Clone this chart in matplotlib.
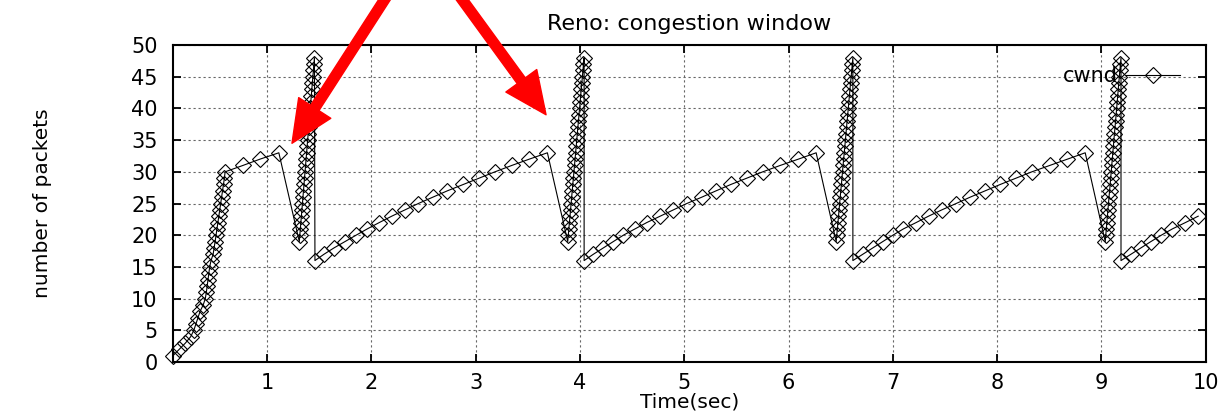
import matplotlib
matplotlib.use("Agg")
import matplotlib.pyplot as plt

# --- data ---
# slow start
ss_time = [0.100, 0.160, 0.220, 0.270, 0.300, 0.320, 0.340, 0.360, 0.390, 0.410,
           0.420, 0.428, 0.436, 0.444, 0.452, 0.465, 0.485, 0.495, 0.504, 0.513,
           0.522, 0.531, 0.540, 0.549, 0.558, 0.567, 0.576, 0.585, 0.593, 0.600]
ss_cwnd = [1, 2, 3, 4, 5, 6, 7, 8, 9, 10, 11, 12, 13, 14, 15, 16, 17, 18, 19, 20,
           21, 22, 23, 24, 25, 26, 27, 28, 29, 30]

# first congestion avoidance bit after slow start
ca0_time = [0.770, 0.935, 1.115]
ca0_cwnd = [31, 32, 33]

# fast recovery spikes (window inflation 19 -> 48)
spike_cwnd = [19, 20, 21, 22, 23, 24, 25, 26, 27, 28, 29, 30, 31, 32, 33,
              34, 35, 36, 37, 38, 39, 40, 41, 42, 43, 44, 45, 46, 47, 48]
spike1_time = [1.311, 1.316, 1.321, 1.326, 1.331, 1.336, 1.341, 1.346, 1.351, 1.356,
               1.361, 1.366, 1.371, 1.376, 1.381, 1.386, 1.391, 1.396, 1.401, 1.406,
               1.411, 1.416, 1.421, 1.426, 1.431, 1.436, 1.441, 1.446, 1.451, 1.456]
spike2_time = [3.884, 3.889, 3.895, 3.900, 3.906, 3.911, 3.916, 3.922, 3.927, 3.933,
               3.938, 3.943, 3.949, 3.954, 3.960, 3.965, 3.970, 3.976, 3.981, 3.987,
               3.992, 3.997, 4.003, 4.008, 4.014, 4.019, 4.024, 4.030, 4.035, 4.041]
spike3_time = [6.457, 6.463, 6.468, 6.474, 6.479, 6.485, 6.490, 6.496, 6.501, 6.507,
               6.512, 6.518, 6.523, 6.529, 6.534, 6.540, 6.545, 6.551, 6.556, 6.562,
               6.567, 6.573, 6.578, 6.584, 6.589, 6.595, 6.600, 6.606, 6.611, 6.617]
spike4_time = [9.036, 9.041, 9.046, 9.052, 9.057, 9.062, 9.067, 9.072, 9.078, 9.083,
               9.088, 9.093, 9.098, 9.104, 9.109, 9.114, 9.119, 9.124, 9.130, 9.135,
               9.140, 9.145, 9.150, 9.156, 9.161, 9.166, 9.171, 9.176, 9.182, 9.187]

# congestion avoidance after each recovery (16 -> 33)
ca_cwnd = [16, 17, 18, 19, 20, 21, 22, 23, 24, 25, 26, 27, 28, 29, 30, 31, 32, 33]
ca1_time = [1.461, 1.548, 1.644, 1.749, 1.855, 1.963, 2.078, 2.197, 2.324, 2.452,
            2.590, 2.730, 2.883, 3.037, 3.187, 3.347, 3.516, 3.689]
ca2_time = [4.041, 4.130, 4.226, 4.322, 4.417, 4.530, 4.642, 4.769, 4.897, 5.025,
            5.169, 5.306, 5.447, 5.600, 5.754, 5.920, 6.095, 6.265]
ca3_time = [6.617, 6.713, 6.809, 6.904, 7.000, 7.102, 7.224, 7.342, 7.470, 7.607,
            7.741, 7.885, 8.029, 8.182, 8.333, 8.502, 8.674, 8.844]
ca4_time = [9.187, 9.283, 9.378, 9.474, 9.573, 9.680, 9.805, 9.927]
ca4_cwnd = [16, 17, 18, 19, 20, 21, 22, 23]

# red annotation arrows (tail, tip) in data units
arrow1 = ((2.161, 58.0), (1.241, 34.5))
arrow2 = ((2.835, 58.0), (3.676, 39.0))

time = (ss_time + ca0_time + spike1_time + ca1_time + spike2_time + ca2_time
        + spike3_time + ca3_time + spike4_time + ca4_time)
cwnd = (ss_cwnd + ca0_cwnd + spike_cwnd + ca_cwnd + spike_cwnd + ca_cwnd
        + spike_cwnd + ca_cwnd + spike_cwnd + ca4_cwnd)

plt.rcParams['font.family'] = 'DejaVu Sans'

fig = plt.figure(figsize=(12.18, 4.11), dpi=100)
ax = fig.add_axes([0.142, 0.1192, 0.848, 0.7713])

ax.plot(time, cwnd, color='black', lw=0.8, marker='D', ms=7.8,
        mfc='none', mec='black', mew=0.8, label='cwnd', clip_on=False, zorder=3)

ax.set_xlim(0.1, 10)
ax.set_ylim(0, 50)
ax.set_xticks(range(1, 11))
ax.set_yticks(range(0, 51, 5))
ax.grid(True, color='0.4', linestyle=(0, (2, 2.5)), lw=0.8)

for s in ax.spines.values():
    s.set_linewidth(1.5)
ax.tick_params(direction='in', length=6, width=1.3, top=True, right=True,
               labelsize=15)
ax.tick_params(axis='y', pad=11)
ax.tick_params(axis='x', pad=8)

ax.set_title('Reno: congestion window', fontsize=16, pad=11)
ax.set_ylabel('number of packets', fontsize=14.5)
ax.yaxis.set_label_coords(-0.117, 0.5)
ax.set_xlabel('Time(sec)', fontsize=14.5)
ax.xaxis.set_label_coords(0.5, -0.097)

ax.legend(loc='center right', bbox_to_anchor=(0.975, 0.902), frameon=False,
          markerfirst=False, handlelength=2.6, handletextpad=0.4,
          borderpad=0, borderaxespad=0, fontsize=15, numpoints=1)

for tail, tip in (arrow1, arrow2):
    ax.annotate('', xy=tip, xytext=tail, annotation_clip=False,
                arrowprops=dict(arrowstyle='simple,head_length=0.55,head_width=0.5,tail_width=0.13',
                                mutation_scale=55, color='red', shrinkA=0, shrinkB=0))

fig.savefig('out.png', dpi=100)
